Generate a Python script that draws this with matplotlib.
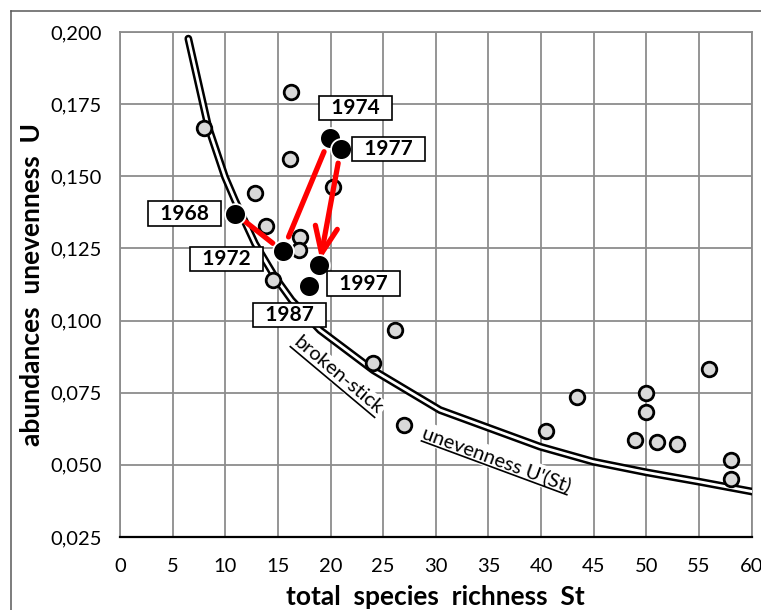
import matplotlib
matplotlib.use("Agg")
import matplotlib.pyplot as plt
from matplotlib.ticker import FuncFormatter, MultipleLocator
from matplotlib.transforms import Affine2D, ScaledTranslation
from matplotlib.lines import Line2D

plt.rcParams['font.family'] = ['Lato', 'DejaVu Sans']

# broken-stick unevenness curve U'(St)
curve_st = [6.49, 8.39, 9.97, 10.92, 12.82, 14.72, 16.3, 18.99, 24.06, 30.39, 39.9, 44.95, 50.0, 55.1, 60.1]
curve_u = [0.1977, 0.167, 0.1498, 0.1417, 0.1267, 0.1151, 0.1071, 0.0967, 0.0828, 0.069, 0.0563, 0.0511, 0.0474, 0.0441, 0.0407]

# other samples (grey)
other_st = [8.0, 16.25, 16.1, 12.8, 20.2, 13.9, 17.1, 17.0, 14.5, 26.1, 24.0, 26.97,
            40.46, 43.4, 50.0, 50.0, 48.9, 50.96, 52.9, 55.96, 58.0, 58.0]
other_u = [0.1667, 0.1792, 0.1559, 0.1442, 0.1463, 0.1328, 0.129, 0.1244, 0.1142, 0.0967, 0.0854, 0.0638,
           0.0617, 0.0736, 0.0748, 0.0682, 0.0586, 0.0579, 0.0574, 0.0832, 0.0517, 0.0452]

# dated samples (black)
years = ['1968', '1972', '1974', '1977', '1987', '1997']
year_st = [10.92, 15.45, 19.94, 20.96, 17.95, 18.93]
year_u = [0.1371, 0.1241, 0.1634, 0.1593, 0.1119, 0.1191]

# label offsets in points
label_off = {'1968': (-36.5, 0), '1972': (-40.7, -5.8), '1974': (18.7, 21.5),
             '1977': (34.3, 0.5), '1987': (-13.9, -20.5), '1997': (32, -13)}

fig = plt.figure(figsize=(7.61, 6.10), dpi=100)
ax = fig.add_axes([120 / 761, 1 - 537 / 610, 631.7 / 761, 505 / 610])

ax.set_xlim(0, 60)
ax.set_ylim(0.025, 0.200)
ax.xaxis.set_major_locator(MultipleLocator(5))
ax.yaxis.set_major_locator(MultipleLocator(0.025))
ax.yaxis.set_major_formatter(FuncFormatter(lambda v, _: f'{v:.3f}'.replace('.', ',')))
ax.tick_params(length=0, labelsize=14.5)
ax.tick_params(axis='x', pad=15)
ax.tick_params(axis='y', pad=13)
ax.grid(True, color='#8c8c8c', lw=1.3)
ax.set_axisbelow(True)
for s in ['left', 'top', 'right']:
    ax.spines[s].set_color('#8c8c8c')
    ax.spines[s].set_linewidth(1.3)
ax.spines['bottom'].set_color('black')
ax.spines['bottom'].set_linewidth(1.6)

# double-line curve
ax.plot(curve_st, curve_u, color='black', lw=5.6, solid_capstyle='round', solid_joinstyle='round', zorder=3)
ax.plot(curve_st, curve_u, color='white', lw=2.0, solid_capstyle='round', solid_joinstyle='round', zorder=3.1)


def underlined(x, y, text, angle, length, drop):
    ax.text(x, y, text, rotation=angle, rotation_mode='anchor', ha='center', va='center',
            fontsize=14.5, zorder=2.5,
            bbox=dict(boxstyle='square,pad=0.1', fc='white', ec='none'))
    tr = Affine2D().rotate_deg(angle) + ScaledTranslation(x, y, ax.transData)
    ax.plot([-length / 2, length / 2], [-drop, -drop], color='black', lw=1.2,
            transform=tr, zorder=2.6, clip_on=False)


underlined(20.73, 0.0811, 'broken-stick', -40, 110, 9)
underlined(35.83, 0.0519, "unevenness U'(St)", -20.3, 155, 9)

# grey samples
ax.plot(other_st, other_u, 'o', ms=10.5, mfc='#d9d9d9', mec='black', mew=2, zorder=4)

# red trajectory
red = dict(color='#ff0000', lw=3.8, shrinkA=7, shrinkB=9)
ax.annotate('', xy=(year_st[1], year_u[1]), xytext=(year_st[0], year_u[0]),
            arrowprops=dict(arrowstyle='-', **red), zorder=5)
red.update(shrinkA=11, shrinkB=11)
ax.annotate('', xy=(year_st[2], year_u[2]), xytext=(year_st[1], year_u[1]),
            arrowprops=dict(arrowstyle='-', **red), zorder=5)
red.update(shrinkA=10, shrinkB=4)
ax.annotate('', xy=(year_st[5], year_u[5]), xytext=(year_st[3], year_u[3]),
            arrowprops=dict(arrowstyle='->,head_length=1.9,head_width=0.8', **red), zorder=5)

# dated samples
ax.plot(year_st, year_u, 'o', ms=15, mfc='black', mec='white', mew=1.3, zorder=6)
for name, xs, ys in zip(years, year_st, year_u):
    ax.annotate('  ' + name + '  ', xy=(xs, ys), xytext=label_off[name], textcoords='offset points',
                ha='center', va='center', fontsize=15, fontweight='bold', zorder=7,
                bbox=dict(boxstyle='square,pad=0.1', fc='white', ec='black', lw=1.2))

ax.set_xlabel('total  species  richness  St', fontsize=19, fontweight='bold')
ax.set_ylabel('abundances  unevenness  U', fontsize=19, fontweight='bold')
ax.xaxis.set_label_coords(0.5, -0.119)
ax.yaxis.set_label_coords(-0.139, 0.5)
ax.xaxis.label.set_va('center')
ax.yaxis.label.set_va('center')

# outer frame
fig.add_artist(Line2D([11 / 761, 11 / 761], [0, 1 - 11 / 610], color='#595959', lw=1.1))
fig.add_artist(Line2D([11 / 761, 1], [1 - 11 / 610, 1 - 11 / 610], color='#595959', lw=1.1))

fig.savefig('out.png', dpi=100)
